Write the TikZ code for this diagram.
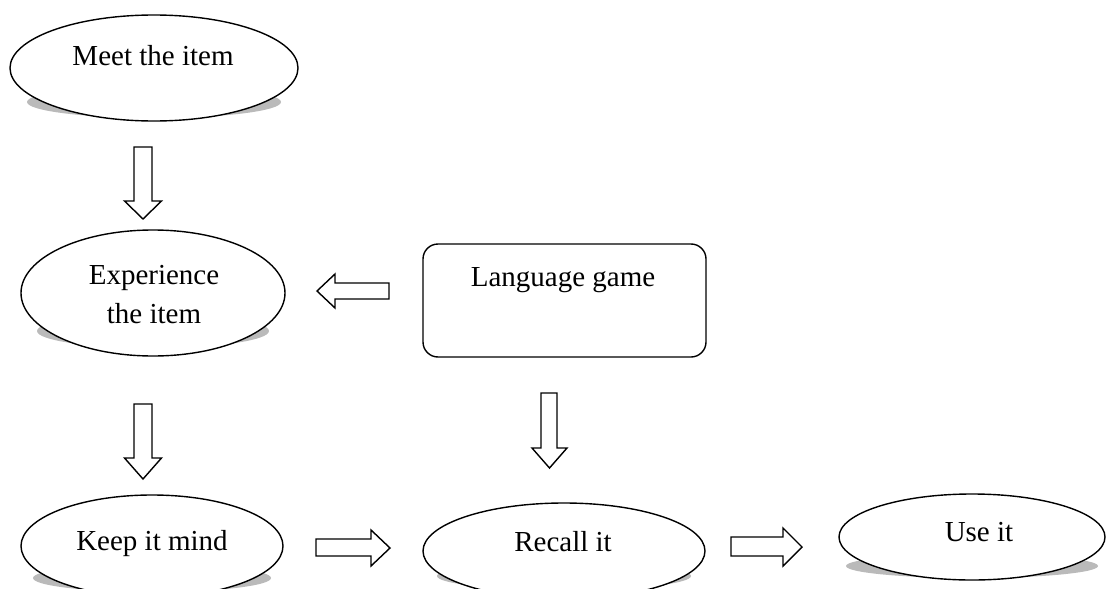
\documentclass[tikz,border=0pt]{standalone}
\usepackage{fontspec}
\setmainfont{Liberation Serif}
\usetikzlibrary{shapes.geometric}
\pgfdeclarelayer{background}
\pgfsetlayers{background,main}
\tikzset{
  ell/.style={ellipse, draw, line width=1.4pt, fill=white, inner sep=0pt},
  shadowc/.style={fill=black!27},
  lbl/.style={anchor=base, inner sep=0pt, font=\fontsize{29}{37.5}\selectfont, align=center},
  roundbox/.style={draw, line width=1.4pt, rounded corners=15pt, fill=white, inner sep=0pt},
  barrow/.style={draw, line width=1.4pt, fill=white, line join=miter},
}
\begin{document}
\begin{tikzpicture}[x=1pt,y=-1pt]
\useasboundingbox (0,0) rectangle (1106,589);
\clip (0,0) rectangle (1106,589);

% ellipses
\node[ell, minimum width=288pt, minimum height=106pt] (meet) at (154,68) {};
\node[ell, minimum width=264pt, minimum height=126pt] (exp) at (153,293) {};
\node[ell, minimum width=262pt, minimum height=102pt] (keep) at (152,546) {};
\node[ell, minimum width=282pt, minimum height=96pt] (recall) at (564,551) {};
\node[ell, minimum width=266pt, minimum height=86pt] (use) at (972,537) {};
\node[roundbox, minimum width=283pt, minimum height=113pt] (game) at (564.5,300.5) {};

% shadows
\begin{pgfonlayer}{background}
\fill[shadowc] ([yshift=-34pt]meet.center) ellipse [x radius=127pt, y radius=16pt];
\fill[shadowc] ([yshift=-38pt]exp.center) ellipse [x radius=116pt, y radius=17pt];
\fill[shadowc] ([yshift=-32pt]keep.center) ellipse [x radius=119pt, y radius=14pt];
\fill[shadowc] ([yshift=-25pt]recall.center) ellipse [x radius=127pt, y radius=14pt];
\fill[shadowc] ([yshift=-29pt]use.center) ellipse [x radius=126pt, y radius=12pt];
\end{pgfonlayer}

% texts
\node[lbl] (meett) at (153,65.7) {Meet the item};
\node[lbl] (expt1) at (154,284) {Experience};
\node[lbl] (expt2) at (154,323.5) {the item};
\node[lbl] (keept) at (152,550.5) {Keep it mind};
\node[lbl] (recallt) at (563,551.5) {Recall it};
\node[lbl] (uset) at (979,541.5) {Use it};
\node[lbl] (gamet) at (563,286.5) {Language game};

% block arrows
\draw[barrow] (134,147) -- (152,147) -- (152,201) -- (161.5,201) -- (143,219) -- (124.5,201) -- (134,201) -- cycle;
\draw[barrow] (134,404) -- (152,404) -- (152,458) -- (161.5,458) -- (143,479) -- (124.5,458) -- (134,458) -- cycle;
\draw[barrow] (541,393) -- (557,393) -- (557,448) -- (567,448) -- (549.5,468) -- (532,448) -- (541,448) -- cycle;
\draw[barrow] (389,283) -- (335,283) -- (335,274) -- (317,291) -- (335,308) -- (335,299) -- (389,299) -- cycle;
\draw[barrow] (316,539) -- (371,539) -- (371,530) -- (390,548) -- (371,566) -- (371,556) -- (316,556) -- cycle;
\draw[barrow] (731,537) -- (783,537) -- (783,528) -- (802,547) -- (783,566) -- (783,556) -- (731,556) -- cycle;
\end{tikzpicture}
\end{document}
